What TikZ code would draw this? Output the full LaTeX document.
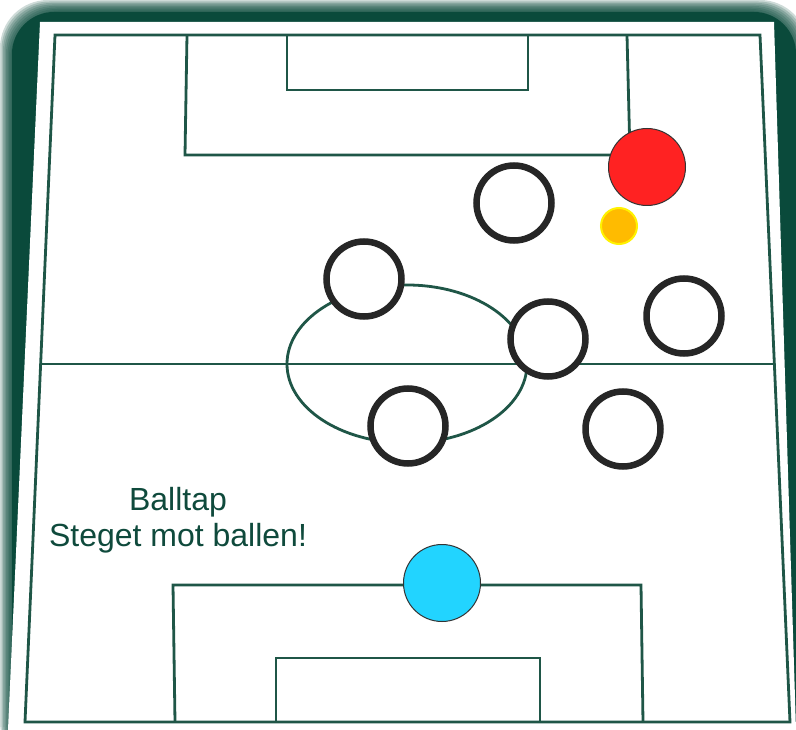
\documentclass[tikz,border=0pt]{standalone}
\usepackage{fontspec}
\setmainfont{Liberation Sans}
\begin{document}
\begin{tikzpicture}[x=1pt,y=-1pt,
  line/.style={draw=linegreen,line width=2.8pt},
  player/.style={circle,draw=black!85,line width=6.5pt,fill=white,minimum size=75pt,inner sep=0pt},
  ballc/.style={circle,draw=black!80,line width=1pt,minimum size=77pt,inner sep=0pt}]
\definecolor{framegreen}{HTML}{0A4A3B}
\definecolor{linegreen}{HTML}{1F5647}
\definecolor{textgreen}{HTML}{0F4A3C}
\definecolor{redp}{HTML}{FF2222}
\definecolor{orangeb}{HTML}{FFBB00}
\definecolor{cyanp}{HTML}{22D4FF}
\useasboundingbox (0,0) rectangle (796,730);
% blurred frame
\foreach \i in {0,...,7}{
  \pgfmathsetmacro{\off}{1.5*\i}
  \fill[framegreen,opacity=0.2,rounded corners=48pt] (\off,\off) rectangle (808-\off,770);
}
\fill[framegreen,rounded corners=42pt] (12,12) rectangle (796,770);
% white pitch
\fill[white] (40,22) -- (774,22) -- (796,730) -- (8,730) -- cycle;
% outer lines
\draw[line] (55,35) coordinate (tl) -- (760,35) coordinate (tr) -- (790,722) coordinate (br) -- (25,722) coordinate (bl) -- cycle;
% halfway line
\draw[line] (40,364) coordinate (hl) -- (775,364) coordinate (hr);
% centre circle
\draw[line] (407,364) ellipse [x radius=120, y radius=79];
% top boxes
\draw[line] (187,35) -- (185,155) -- (630,155) -- (627,35);
\draw[line] (287,35) -- (287,90) -- (528,90) -- (528,35);
% bottom boxes
\draw[line] (175,722) -- (173,585) -- (641,585) -- (643,722);
\draw[line] (276,722) -- (276,658) -- (540,658) -- (540,722);
% players
\node[player] (p1) at (514,203) {};
\node[player] (p2) at (364,279) {};
\node[player] (p3) at (548,339) {};
\node[player] (p4) at (684,316) {};
\node[player] (p5) at (408,426) {};
\node[player] (p6) at (623,429) {};
\node[ballc,fill=redp] (opp) at (647,167) {};
\node[circle,draw=yellow,line width=2pt,fill=orangeb,minimum size=36pt,inner sep=0pt] (ball) at (619,226) {};
\node[ballc,fill=cyanp] (keeper) at (442,583) {};
% text
\node[text=textgreen,font=\fontsize{32}{36}\selectfont,align=center] (lbl) at (178,520) {Balltap\\Steget mot ballen!};
\end{tikzpicture}
\end{document}
